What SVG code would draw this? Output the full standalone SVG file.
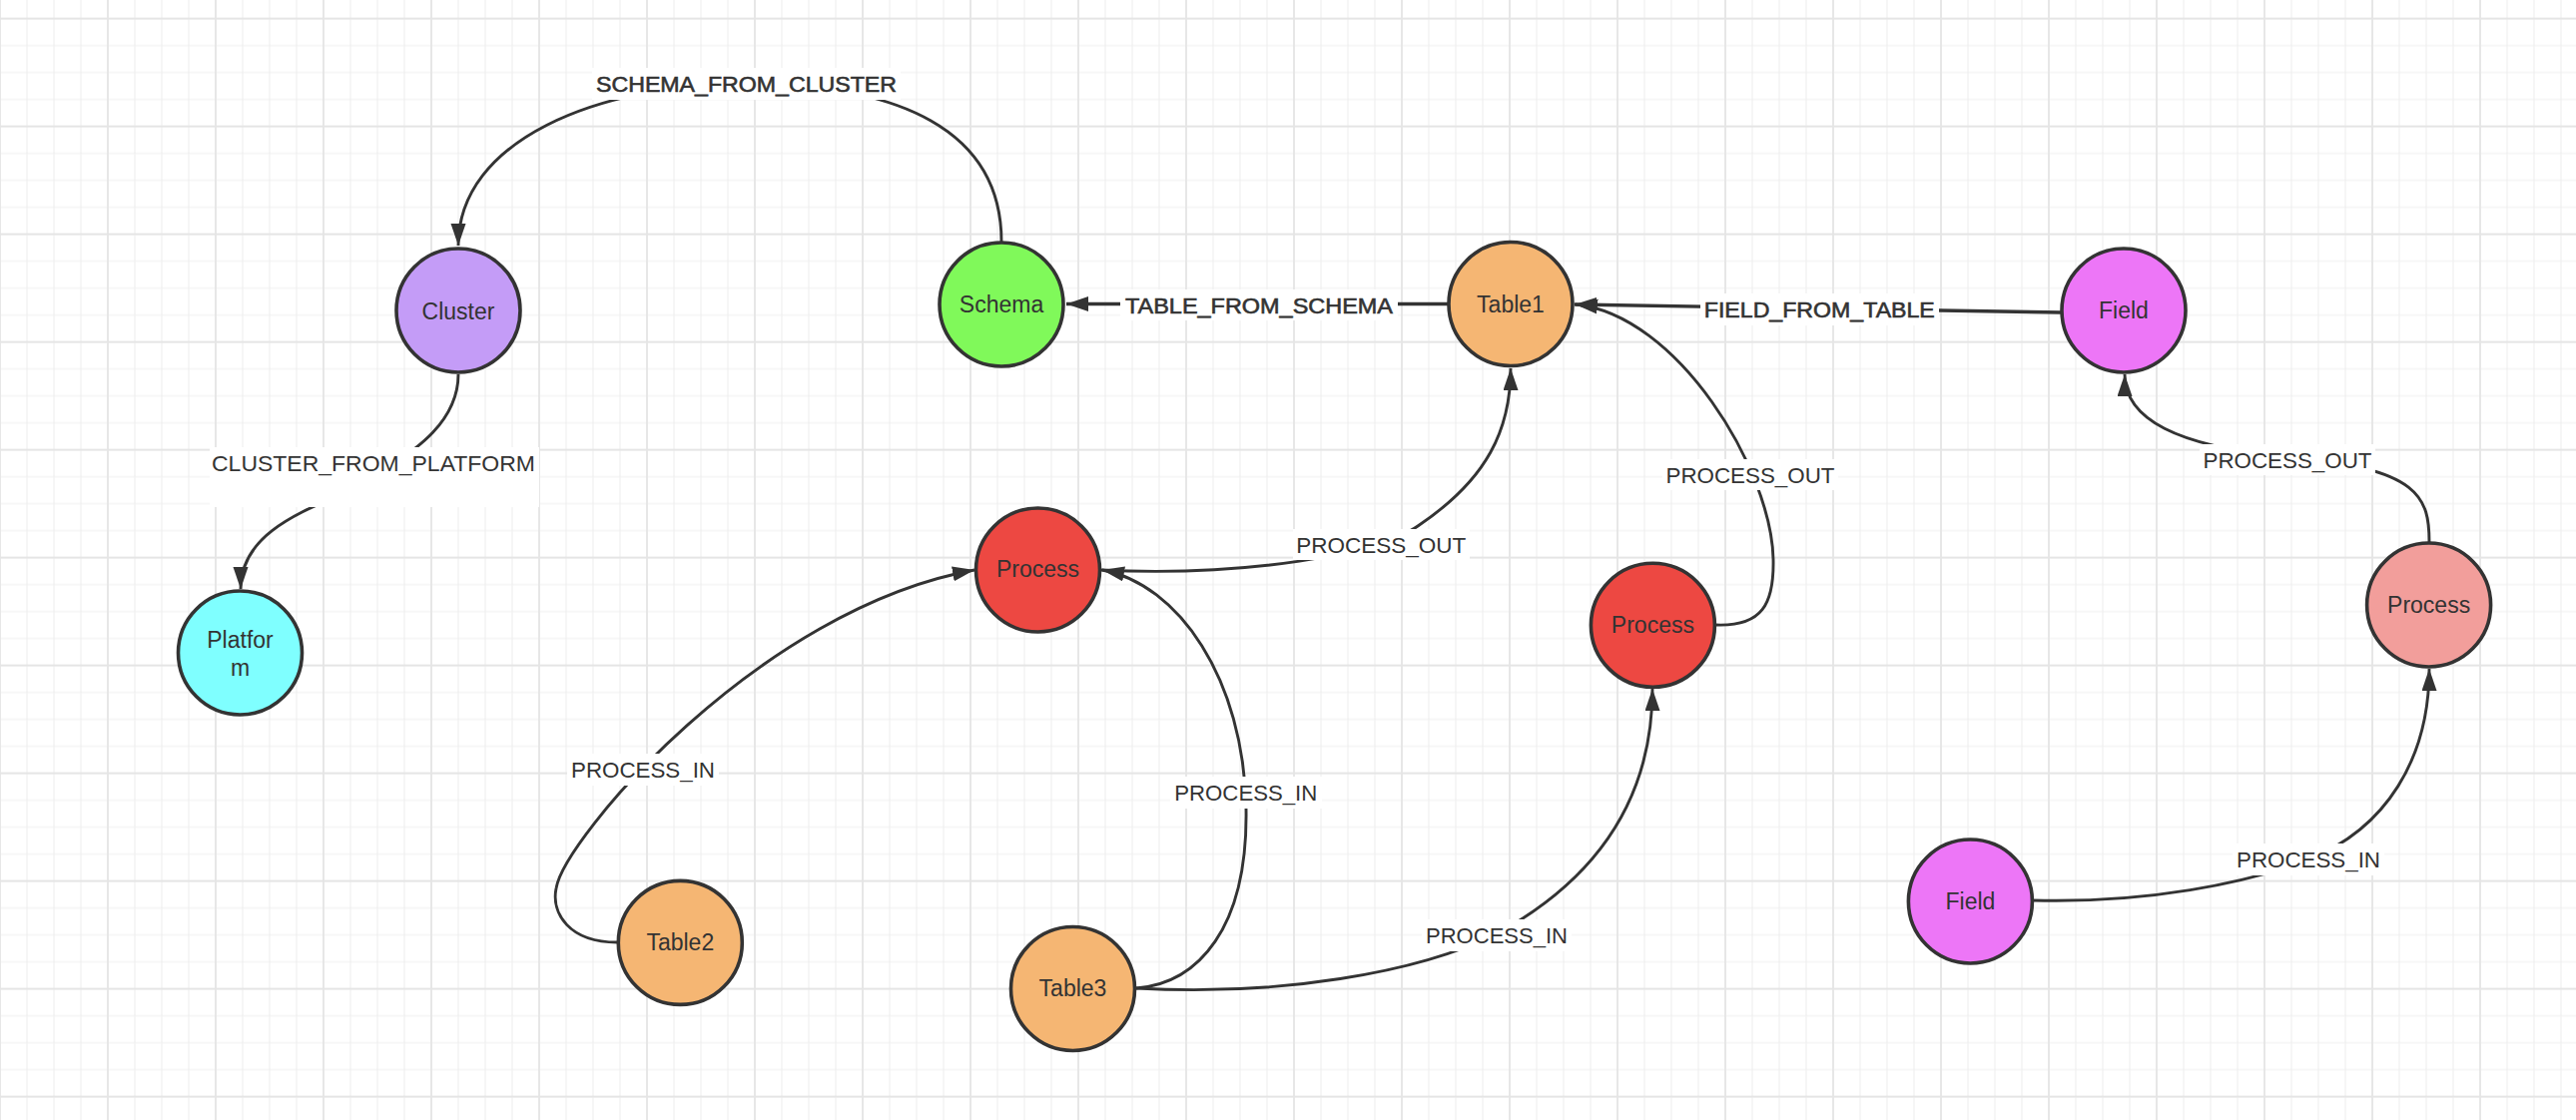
<svg xmlns="http://www.w3.org/2000/svg" width="2580" height="1122" viewBox="0 0 2580 1122">
<defs>
<style>
.node circle{stroke:#333;stroke-width:3.6}
.nt{font-family:"Liberation Sans",Arial,Helvetica,sans-serif;font-size:23px;fill:#333;text-anchor:middle}
.edge{fill:none;stroke:#333;stroke-width:2.9;marker-end:url(#ah)}
.edge.thick{stroke-width:3.4}
.lbg{fill:#fff}
.lt{font-family:"Liberation Sans",Arial,Helvetica,sans-serif;font-size:22.5px;fill:#333;text-anchor:middle}
.lt.b{stroke:#333;stroke-width:0.6}
</style>
<marker id="ah" markerUnits="userSpaceOnUse" markerWidth="24" markerHeight="16" refX="22" refY="7.5" orient="auto">
<path d="M0,0 L22,7.5 L0,15 z" fill="#333"/>
</marker>
<pattern id="grid" width="108" height="108" patternUnits="userSpaceOnUse" x="-1" y="17.6">
<path d="M28,0V108M55,0V108M82,0V108M0,28H108M0,55H108M0,82H108" stroke="#efefef" stroke-width="1.1" fill="none"/>
<path d="M1,0V108M0,1H108" stroke="#e5e5e5" stroke-width="1.8" fill="none"/>
</pattern>
</defs>
<rect width="2580" height="1122" fill="#fff"/>
<rect width="2580" height="1122" fill="url(#grid)"/>

<g id="connectors">
<path class="edge" d="M1003,242 C1003,130 900,84 747,84 C600,84 459,140 459,246"/>
<path class="edge" d="M459,375 C459,430 400,460 375,478 C340,503 241,520 241,590"/>
<path class="edge thick" d="M1450,304.5 L1068,304.5"/>
<path class="edge thick" d="M2064,313 L1577,305"/>
<path class="edge" d="M1102,571 C1250,578 1380,555 1420,527 C1490,480 1513,430 1513,369"/>
<path class="edge" d="M1718,626 C1765,628 1777,605 1776,560 C1774,470 1680,315 1578,305"/>
<path class="edge" d="M2433,543 C2433,500 2425,468 2291,458 C2180,447 2128,420 2128,375"/>
<path class="edge" d="M618,944 C570,944 552,915 557,890 C565,840 760,610 976,571"/>
<path class="edge" d="M1138,990 C1200,985 1250,930 1248,810 C1246,680 1180,585 1104,571"/>
<path class="edge" d="M1138,990 C1280,998 1420,975 1500,935 C1600,880 1655,800 1655,690"/>
<path class="edge" d="M2036,902 C2150,905 2250,885 2312,861 C2390,830 2433,760 2433,670"/>

<g id="edge-labels">
<rect class="lbg" x="593" y="68" width="309" height="32"/>
<text class="lt b" x="747.5" y="92.3" textLength="301" lengthAdjust="spacingAndGlyphs">SCHEMA_FROM_CLUSTER</text>
<rect class="lbg" x="210" y="448" width="330" height="60"/>
<text class="lt" x="374" y="472.3" textLength="324" lengthAdjust="spacingAndGlyphs">CLUSTER_FROM_PLATFORM</text>
<rect class="lbg" x="1122" y="290" width="278" height="31"/>
<text class="lt b" x="1261" y="314" textLength="268" lengthAdjust="spacingAndGlyphs">TABLE_FROM_SCHEMA</text>
<rect class="lbg" x="1703" y="294" width="239" height="32"/>
<text class="lt b" x="1822.3" y="318.3" textLength="231" lengthAdjust="spacingAndGlyphs">FIELD_FROM_TABLE</text>
<rect class="lbg" x="1295" y="530" width="177" height="31"/>
<text class="lt" x="1383.3" y="554" textLength="170" lengthAdjust="spacingAndGlyphs">PROCESS_OUT</text>
<rect class="lbg" x="1665" y="460" width="176" height="31"/>
<text class="lt" x="1753" y="484" textLength="169" lengthAdjust="spacingAndGlyphs">PROCESS_OUT</text>
<rect class="lbg" x="2203" y="445" width="176" height="31"/>
<text class="lt" x="2291" y="469" textLength="169" lengthAdjust="spacingAndGlyphs">PROCESS_OUT</text>
<rect class="lbg" x="568" y="755" width="152" height="32"/>
<text class="lt" x="644" y="779" textLength="144" lengthAdjust="spacingAndGlyphs">PROCESS_IN</text>
<rect class="lbg" x="1172" y="778" width="152" height="32"/>
<text class="lt" x="1247.8" y="802" textLength="143" lengthAdjust="spacingAndGlyphs">PROCESS_IN</text>
<rect class="lbg" x="1424" y="921" width="150" height="32"/>
<text class="lt" x="1499" y="945" textLength="142" lengthAdjust="spacingAndGlyphs">PROCESS_IN</text>
<rect class="lbg" x="2236" y="845" width="152" height="32"/>
<text class="lt" x="2312" y="869" textLength="144" lengthAdjust="spacingAndGlyphs">PROCESS_IN</text>
</g>
</g>

<g id="node-cluster" class="node"><circle cx="459" cy="311" r="62" fill="#C49CF7"/><text class="nt" x="459" y="319.5">Cluster</text></g>
<g id="node-platform" class="node"><circle cx="240.5" cy="654" r="62" fill="#7FFFFF"/><text class="nt" x="240.5" y="649">Platfor</text><text class="nt" x="240.5" y="677">m</text></g>
<g id="node-schema" class="node"><circle cx="1003" cy="305" r="62" fill="#80F95A"/><text class="nt" x="1003" y="313">Schema</text></g>
<g id="node-table1" class="node"><circle cx="1513" cy="304.5" r="62" fill="#F5B673"/><text class="nt" x="1513" y="312.5">Table1</text></g>
<g id="node-field-top" class="node"><circle cx="2127" cy="311" r="62" fill="#ED76F7"/><text class="nt" x="2127" y="319">Field</text></g>
<g id="node-process-left" class="node"><circle cx="1039.5" cy="571" r="62" fill="#ED4842"/><text class="nt" x="1039.5" y="577.5">Process</text></g>
<g id="node-process-mid" class="node"><circle cx="1655.4" cy="626.3" r="62" fill="#ED4842"/><text class="nt" x="1655.4" y="634">Process</text></g>
<g id="node-process-right" class="node"><circle cx="2432.6" cy="606" r="62" fill="#F29E9B"/><text class="nt" x="2432.6" y="614">Process</text></g>
<g id="node-table2" class="node"><circle cx="681.3" cy="944.4" r="62" fill="#F5B673"/><text class="nt" x="681.3" y="952">Table2</text></g>
<g id="node-table3" class="node"><circle cx="1074.5" cy="990.5" r="62" fill="#F5B673"/><text class="nt" x="1074.5" y="998">Table3</text></g>
<g id="node-field-bottom" class="node"><circle cx="1973.4" cy="903" r="62" fill="#ED76F7"/><text class="nt" x="1973.4" y="911">Field</text></g>
</svg>
